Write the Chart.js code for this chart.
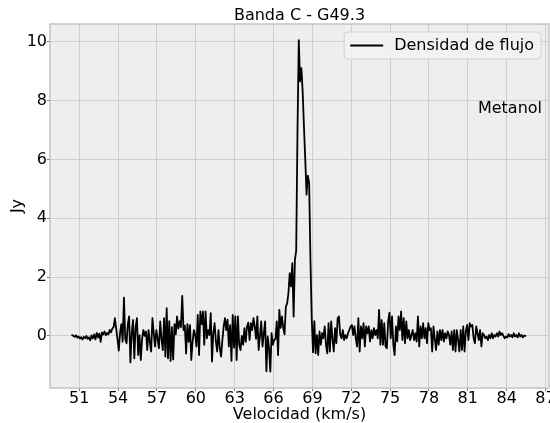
<!DOCTYPE html>
<html>
<head>
<meta charset="utf-8">
<script src="https://cdn.jsdelivr.net/npm/chart.js@4.4.1/dist/chart.umd.min.js"></script>
<style>
  html, body { margin: 0; padding: 0; background: #ffffff; }
  #c { display: block; }
</style>
</head>
<body>
<canvas id="c" width="550" height="423"></canvas>
<script>
// ---- data ----
const chartTitle = 'Banda C - G49.3';
const xAxisTitle = 'Velocidad (km/s)';
const yAxisTitle = 'Jy';
const legendLabel = 'Densidad de flujo';
const annotationText = 'Metanol';
const annotationX = 86.73;   // km/s (right edge of text)
const annotationY = 7.7;     // Jy

const velocityStart = 50.45; // km/s, first channel
const channelWidth = 0.1;    // km/s per channel

const xTicks = [51, 54, 57, 60, 63, 66, 69, 72, 75, 78, 81, 84, 87];
const yTicks = [0, 2, 4, 6, 8, 10];
const xRange = [48.74, 87.27];
const yRange = [-1.77, 10.6];

const fluxDensity = [
  0.03, 0.0, -0.03, 0.02, -0.06, -0.02, -0.09, -0.04, -0.12, -0.03,
  -0.08, 0.0, -0.1, -0.05, -0.15, 0.02, -0.08, 0.05, -0.12, 0.1,
  -0.05, 0.08, -0.2, 0.12, 0.05, 0.15, 0.02, 0.1, 0.05, 0.2,
  0.12, 0.25, 0.3, 0.6, 0.25, -0.1, -0.5, 0.1, 0.4, -0.2,
  1.3, -0.1, -0.25, 0.4, 0.66, -0.9, 0.1, 0.54, -0.76, 0.3,
  0.6, -0.65, 0.03, -0.82, -0.1, 0.2, 0.0, 0.15, -0.48, 0.2,
  -0.2, -0.53, 0.6, 0.1, -0.36, 0.2, -0.1, -0.42, 0.49, -0.1,
  -0.48, 0.6, -0.7, 0.94, -0.76, 0.5, -0.85, 0.3, -0.8, 0.4,
  0.05, 0.66, 0.25, 0.5, 0.3, 1.36, 0.2, 0.35, -0.6, 0.4,
  -0.2, 0.37, -0.82, -0.2, 0.2, 0.03, -0.36, 0.71, -0.65, 0.83,
  0.4, 0.83, -0.3, 0.83, -0.08, 0.2, 0.03, 0.77, -0.87, 0.1,
  0.43, -0.19, -0.53, 0.2, -0.42, -0.7, -0.14, 0.32, 0.6, 0.2,
  0.55, -0.36, 0.37, -0.85, 0.71, -0.4, 0.66, -0.82, 0.66, -0.3,
  -0.48, 0.0, -0.3, 0.26, -0.2, 0.32, 0.45, -0.14, 0.43, 0.2,
  0.6, 0.32, -0.1, 0.66, -0.48, 0.0, 0.49, -0.36, 0.1, 0.49,
  -1.2, -0.02, -0.4, -1.21, 0.09, -0.3, -0.14, -0.1, 0.49, -0.65,
  0.88, 0.27, 0.66, 0.27, 0.05, 1.0, 1.1, 1.45, 2.13, 1.68,
  2.47, 0.66, 2.58, 2.9, 7.0, 10.05, 8.65, 9.1, 8.3, 7.1,
  6.0, 4.8, 5.45, 5.2, 2.6, 0.6, -0.55, 0.5, -0.59, 0.03,
  -0.65, 0.15, -0.3, 0.09, -0.08, 0.32, -0.3, -0.59, 0.43, -0.53,
  0.49, -0.1, -0.53, 0.26, -0.25, 0.6, 0.66, 0.03, -0.08, 0.2,
  -0.14, 0.03, -0.08, 0.09, 0.2, 0.32, 0.37, 0.03, 0.32, -0.08,
  -0.36, 0.6, -0.53, 0.32, -0.08, 0.43, -0.36, 0.32, 0.09, 0.32,
  -0.19, 0.2, -0.08, 0.26, 0.03, 0.2, -0.08, 0.88, -0.3, 0.54,
  -0.3, 0.43, -0.36, -0.42, 0.49, 0.79, -0.08, 0.66, -0.3, -0.65,
  0.32, -0.19, 0.66, 0.2, 0.83, -0.14, 0.6, -0.25, 0.49, -0.08,
  0.2, -0.14, 0.03, 0.2, -0.14, 0.09, -0.19, 0.66, -0.36, 0.32,
  -0.08, 0.43, -0.08, 0.26, -0.25, 0.43, 0.2, 0.26, -0.53, 0.32,
  -0.1, -0.48, 0.15, -0.3, 0.2, -0.14, 0.2, -0.19, 0.09, -0.08,
  0.15, 0.03, -0.3, 0.15, -0.48, 0.2, -0.53, 0.2, -0.14, -0.53,
  0.2, -0.48, 0.32, -0.53, 0.15, 0.37, -0.14, 0.43, 0.32, 0.37,
  -0.08, -0.25, 0.32, 0.09, -0.14, 0.2, -0.36, 0.09, 0.03, -0.08,
  -0.02, -0.14, 0.03, -0.08, 0.09, -0.08, 0.03, -0.02, 0.09, -0.02,
  0.15, 0.03, 0.09, 0.0, -0.08, -0.02, -0.05, 0.06, -0.02, 0.03,
  -0.05, 0.09, -0.02, 0.03, -0.05, 0.09, -0.02, 0.03, -0.05, 0.01,
  0.0
];

// ---- styles ----
const FONT = '"DejaVu Sans", "Liberation Sans", sans-serif';
const FS = 16;
const PLOT_BG = '#eeeeee';
const GRID = '#cfcfcf';
const FRAME = '#c4c4c4';

const points = fluxDensity.map((y, i) => ({ x: velocityStart + i * channelWidth, y }));

const plotBackground = {
  id: 'plotBackground',
  beforeDraw(chart) {
    const { ctx, chartArea: a } = chart;
    ctx.save();
    ctx.fillStyle = PLOT_BG;
    ctx.fillRect(a.left, a.top, a.right - a.left, a.bottom - a.top);
    ctx.restore();
  },
  afterDraw(chart) {
    const { ctx, chartArea: a } = chart;
    ctx.save();
    ctx.strokeStyle = FRAME;
    ctx.lineWidth = 1.5;
    ctx.strokeRect(a.left, a.top, a.right - a.left, a.bottom - a.top);
    ctx.restore();
  }
};

const boxLegend = {
  id: 'boxLegend',
  afterDatasetsDraw(chart) {
    const { ctx, chartArea: a } = chart;
    ctx.save();
    ctx.font = FS + 'px ' + FONT;
    const tw = ctx.measureText(legendLabel).width;
    const padL = 6, lineLen = 33, gap = 11, padR = 7, h = 27;
    const w = padL + lineLen + gap + tw + padR;
    const x = a.right - 8 - w, y = a.top + 8;
    ctx.beginPath();
    ctx.roundRect(x, y, w, h, 4);
    ctx.fillStyle = 'rgba(242,242,242,0.9)';
    ctx.fill();
    ctx.strokeStyle = '#d2d2d2';
    ctx.lineWidth = 1;
    ctx.stroke();
    ctx.beginPath();
    ctx.moveTo(x + padL, y + h / 2);
    ctx.lineTo(x + padL + lineLen, y + h / 2);
    ctx.strokeStyle = '#000';
    ctx.lineWidth = 1.8;
    ctx.stroke();
    ctx.fillStyle = '#000';
    ctx.textBaseline = 'middle';
    ctx.textAlign = 'left';
    ctx.fillText(legendLabel, x + padL + lineLen + gap, y + h / 2 + 0.5);
    // annotation
    const ax = chart.scales.x.getPixelForValue(annotationX);
    const ay = chart.scales.y.getPixelForValue(annotationY);
    ctx.textAlign = 'right';
    ctx.fillText(annotationText, ax, ay);
    ctx.restore();
  }
};

new Chart(document.getElementById('c'), {
  type: 'line',
  data: {
    datasets: [{
      label: legendLabel,
      data: points,
      borderColor: '#000000',
      borderWidth: 1.8,
      pointRadius: 0,
      tension: 0,
      borderJoinStyle: 'round',
      borderCapStyle: 'round',
      fill: false
    }]
  },
  options: {
    responsive: false,
    animation: false,
    devicePixelRatio: 1,
    parsing: false,
    layout: { padding: { left: 0, right: 1, top: 0, bottom: 0 } },
    plugins: {
      legend: { display: false },
      tooltip: { enabled: false },
      title: {
        display: true,
        text: chartTitle,
        fullSize: false,
        color: '#000',
        font: { family: FONT, size: FS, weight: 'normal', lineHeight: 1 },
        padding: { top: 8, bottom: 0 }
      }
    },
    scales: {
      x: {
        type: 'linear',
        min: xRange[0],
        max: xRange[1],
        afterBuildTicks: (s) => { s.ticks = xTicks.map(v => ({ value: v })); },
        afterFit: (s) => { s.height = 35; s.paddingLeft = 0; s.paddingRight = 0; },
        ticks: {
          autoSkip: false,
          maxRotation: 0,
          color: '#000',
          padding: 0,
          font: { family: FONT, size: FS, lineHeight: 1 },
          callback: (v) => String(v)
        },
        grid: {
          color: GRID,
          lineWidth: 1,
          borderDash: [3, 2],
          drawTicks: true,
          tickLength: 3,
          tickColor: '#777',
          tickBorderDash: []
        },
        border: { display: false },
        title: {
          display: true,
          text: xAxisTitle,
          color: '#000',
          font: { family: FONT, size: FS, lineHeight: 1 },
          padding: { top: 0, bottom: 0 }
        }
      },
      y: {
        type: 'linear',
        min: yRange[0],
        max: yRange[1],
        afterBuildTicks: (s) => { s.ticks = yTicks.map(v => ({ value: v })); },
        afterFit: (s) => { s.width = 50; s.paddingTop = 0; s.paddingBottom = 0; },
        ticks: {
          color: '#000',
          padding: 0,
          font: { family: FONT, size: FS, lineHeight: 1 },
          callback: (v) => String(v)
        },
        grid: {
          color: GRID,
          lineWidth: 1,
          borderDash: [3, 2],
          drawTicks: true,
          tickLength: 3,
          tickColor: '#777',
          tickBorderDash: []
        },
        border: { display: false },
        title: {
          display: true,
          text: yAxisTitle,
          color: '#000',
          font: { family: FONT, size: FS, lineHeight: 1 },
          padding: { top: 9.5, bottom: 0 }
        }
      }
    }
  },
  plugins: [plotBackground, boxLegend]
});
</script>
</body>
</html>
